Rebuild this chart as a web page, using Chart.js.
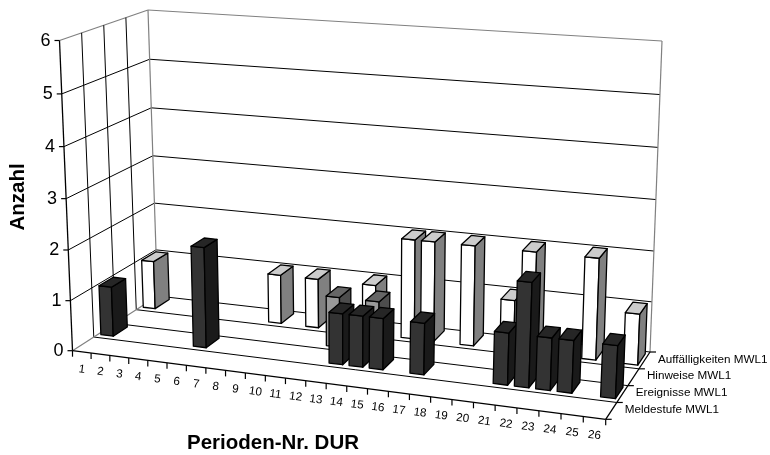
<!DOCTYPE html>
<html>
<head>
<meta charset="utf-8">
<script src="https://cdn.jsdelivr.net/npm/chart.js@4"></script>
<style>
  html, body { margin: 0; padding: 0; background: #fff; }
  canvas { display: block; }
</style>
</head>
<body>
<canvas id="chart" width="770" height="455"></canvas>
<script>
// Periods on the x axis, one row of bars per series (front row first)
const periods = ['1','2','3','4','5','6','7','8','9','10','11','12','13','14','15','16','17','18','19','20','21','22','23','24','25','26'];
const seriesNames = ['Meldestufe MWL1', 'Ereignisse MWL1', 'Hinweise MWL1', 'Auffälligkeiten MWL1'];

const meldestufe =     [0,0,0,0,0,0,0,0,0,0,0,0,0,0,0,0,0,0,0,0,0,0,0,0,0,0];
const ereignisse =     [1,0,0,0,0,2,0,0,0,0,0,0,1,1,1,0,1,0,0,0,1,2,1,1,0,1];
const hinweise =       [0,0,0,0,0,0,0,0,0,0,0,1,0,1,0,0,0,0,0,0,0,0,0,0,0,0];
const auffaelligkeiten = [1,0,0,0,0,0,0,1,0,1,0,0,1,0,2,2,0,2,0,1,2,0,0,2,0,1];

const yMax = 6;

// face colours per row: front, side, top
const rowFaces = [
  ['#808080', '#404040', '#606060'],
  ['#333333', '#1a1a1a', '#262626'],
  ['#999999', '#4d4d4d', '#666666'],
  ['#ffffff', '#808080', '#cccccc']
];

// screen corners of the 3d box: front-left, front-right, back-right, back-left
const floorQuad = [[72.5, 350.7], [605.7, 419.3], [650, 352], [157.5, 296]];
const topQuad = [[59.5, 40.5], [621, 82], [662, 41], [148, 10]];

const widthWarp = 0.097;
const heightWarp = 1.04;

function quadPoint(q, s, t) {
  const [a, b, c, d] = q;
  const x0 = a[0] + (b[0] - a[0]) * s, y0 = a[1] + (b[1] - a[1]) * s;
  const x1 = d[0] + (c[0] - d[0]) * s, y1 = d[1] + (c[1] - d[1]) * s;
  return [x0 + (x1 - x0) * t, y0 + (y1 - y0) * t];
}

// u: periods 0..26, v: rows 0..4, w: value 0..yMax
function project(u, v, w) {
  const s0 = u / periods.length;
  const s = s0 - widthWarp * s0 * (1 - s0);
  const t = v / seriesNames.length;
  const k0 = w / yMax;
  const k = k0 / (heightWarp + (1 - heightWarp) * k0);
  const p0 = quadPoint(floorQuad, s, t), p1 = quadPoint(topQuad, s, t);
  return [p0[0] + (p1[0] - p0[0]) * k, p0[1] + (p1[1] - p0[1]) * k];
}

function line(ctx, a, b, color, width) {
  ctx.strokeStyle = color;
  ctx.lineWidth = width;
  ctx.beginPath();
  ctx.moveTo(a[0], a[1]);
  ctx.lineTo(b[0], b[1]);
  ctx.stroke();
}

function face(ctx, pts, fill) {
  ctx.fillStyle = fill;
  ctx.strokeStyle = '#000000';
  ctx.lineWidth = 1.3;
  ctx.lineJoin = 'round';
  ctx.beginPath();
  pts.forEach((p, i) => i ? ctx.lineTo(p[0], p[1]) : ctx.moveTo(p[0], p[1]));
  ctx.closePath();
  ctx.fill();
  ctx.stroke();
}

// Chart.js lays out the flat bars; this plugin projects them into the 3d box
const box3d = {
  id: 'box3d',
  afterDatasetsDraw(chart) {
    const ctx = chart.ctx;
    const area = chart.chartArea;
    const xs = chart.scales.x, ys = chart.scales.y;
    const nP = periods.length, nS = seriesNames.length;
    const toU = px => (px - area.left) / area.width * nP;
    const toW = px => (area.bottom - px) / area.height * yMax;

    ctx.save();
    // walls
    const gridColor = '#000000', wallColor = '#808080';
    ys.ticks.forEach(t => {
      if (t.value === yMax || t.value === 0) return;
      const w = toW(ys.getPixelForValue(t.value));
      line(ctx, project(0, 0, w), project(0, nS, w), gridColor, 1);
      line(ctx, project(0, nS, w), project(nP, nS, w), gridColor, 1);
    });
    line(ctx, project(0, 0, yMax), project(0, nS, yMax), wallColor, 1.2);
    line(ctx, project(0, nS, yMax), project(nP, nS, yMax), wallColor, 1.2);
    line(ctx, project(0, nS, 0), project(0, nS, yMax), wallColor, 1.2);
    line(ctx, project(nP, nS, 0), project(nP, nS, yMax), wallColor, 1.2);
    for (let v = 1; v < nS; v++) {
      line(ctx, project(0, v, 0), project(0, v, yMax), gridColor, 1);
      line(ctx, project(0, v, 0), project(nP, v, 0), gridColor, 1);
    }
    line(ctx, project(0, nS, 0), project(nP, nS, 0), gridColor, 1);
    line(ctx, project(0, 0, 0), project(0, nS, 0), wallColor, 1.2);

    // bars, back row first, left to right
    for (let row = nS - 1; row >= 0; row--) {
      const meta = chart.getDatasetMeta(row);
      meta.data.forEach(el => {
        const w = toW(el.y);
        if (!(w > 0)) return;
        const u0 = toU(el.x - el.width / 2), u1 = toU(el.x + el.width / 2);
        const v0 = row + 0.2, v1 = row + 0.87;
        const [front, side, top] = rowFaces[row];
        face(ctx, [project(u0, v0, 0), project(u1, v0, 0), project(u1, v0, w), project(u0, v0, w)], front);
        face(ctx, [project(u1, v0, 0), project(u1, v1, 0), project(u1, v1, w), project(u1, v0, w)], side);
        face(ctx, [project(u0, v0, w), project(u1, v0, w), project(u1, v1, w), project(u0, v1, w)], top);
      });
    }

    // axes
    line(ctx, project(0, 0, 0), project(0, 0, yMax), '#000000', 1.3);
    line(ctx, project(0, 0, 0), project(nP, 0, 0), '#000000', 1.3);
    line(ctx, project(nP, 0, 0), project(nP, nS, 0), '#000000', 1.3);

    ctx.fillStyle = '#000000';
    // value axis ticks and labels
    ctx.font = '18px "Liberation Sans"';
    ctx.textAlign = 'right';
    ctx.textBaseline = 'middle';
    ys.ticks.forEach(t => {
      const p = project(0, 0, toW(ys.getPixelForValue(t.value)));
      line(ctx, [p[0] - 5, p[1]], p, '#000000', 1.2);
      ctx.fillText(String(t.value), p[0] - 9, p[1] + 0.5);
    });

    // period ticks and labels, tilted along the axis
    const a0 = project(0, 0, 0), a1 = project(nP, 0, 0);
    const tilt = Math.atan2(a1[1] - a0[1], a1[0] - a0[0]);
    for (let i = 0; i <= nP; i++) {
      const p = project(i, 0, 0);
      line(ctx, p, [p[0], p[1] + 6], '#000000', 1.2);
    }
    ctx.font = '11.7px "Liberation Sans"';
    ctx.textAlign = 'center';
    xs.ticks.forEach(t => {
      const p = project(toU(xs.getPixelForValue(t.value)), 0, 0);
      ctx.save();
      ctx.translate(p[0], p[1] + 17.5);
      ctx.rotate(tilt);
      ctx.fillText(xs.getLabelForValue(t.value), 0, 0);
      ctx.restore();
    });

    // series ticks and labels on the depth axis
    for (let v = 0; v <= nS; v++) {
      const p = project(nP, v, 0);
      line(ctx, p, [p[0] + 6, p[1]], '#000000', 1.2);
    }
    ctx.textAlign = 'left';
    seriesNames.forEach((name, v) => {
      const p = project(nP, v + 0.5, 0);
      ctx.fillText(name, p[0] + 13.5, p[1] - 1);
    });

    // axis titles
    ctx.font = 'bold 20.5px "Liberation Sans"';
    ctx.textAlign = 'center';
    ctx.fillText('Perioden-Nr. DUR', 273, 443);
    ctx.save();
    ctx.translate(18, 197);
    ctx.rotate(-Math.PI / 2);
    ctx.fillText('Anzahl', 0, 0);
    ctx.restore();
    ctx.restore();
  }
};

const seriesValues = [meldestufe, ereignisse, hinweise, auffaelligkeiten];

new Chart(document.getElementById('chart'), {
  type: 'bar',
  data: {
    labels: periods,
    datasets: seriesNames.map((name, i) => ({
      label: name,
      data: seriesValues[i],
      backgroundColor: 'transparent',
      borderWidth: 0,
      grouped: false,
      barPercentage: 0.68,
      categoryPercentage: 1
    }))
  },
  options: {
    responsive: false,
    animation: false,
    plugins: {
      legend: { display: false },
      tooltip: { enabled: false },
      title: { display: false }
    },
    scales: {
      x: { display: false, ticks: { autoSkip: false } },
      y: { display: false, min: 0, max: yMax, ticks: { stepSize: 1 } }
    }
  },
  plugins: [box3d]
});
</script>
</body>
</html>
